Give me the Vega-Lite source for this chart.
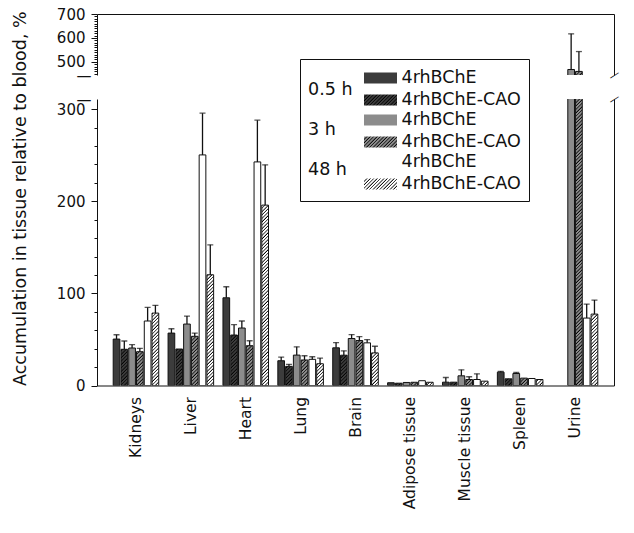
{
  "$schema": "https://vega.github.io/schema/vega-lite/v6.json",
  "padding": {"left": 11, "top": 7, "right": 5, "bottom": 5},
  "background": "white",
  "params": [
    {"name": "hs", "value": [
{"offset":0,"color":"#000"},{"offset":0.004,"color":"transparent"},{"offset":0.008,"color":"transparent"},
{"offset":0.01,"color":"#000"},{"offset":0.014,"color":"transparent"},{"offset":0.018,"color":"transparent"},
{"offset":0.02,"color":"#000"},{"offset":0.024,"color":"transparent"},{"offset":0.028,"color":"transparent"},
{"offset":0.03,"color":"#000"},{"offset":0.034,"color":"transparent"},{"offset":0.038,"color":"transparent"},
{"offset":0.04,"color":"#000"},{"offset":0.044,"color":"transparent"},{"offset":0.048,"color":"transparent"},
{"offset":0.05,"color":"#000"},{"offset":0.054,"color":"transparent"},{"offset":0.058,"color":"transparent"},
{"offset":0.06,"color":"#000"},{"offset":0.064,"color":"transparent"},{"offset":0.068,"color":"transparent"},
{"offset":0.07,"color":"#000"},{"offset":0.074,"color":"transparent"},{"offset":0.078,"color":"transparent"},
{"offset":0.08,"color":"#000"},{"offset":0.084,"color":"transparent"},{"offset":0.088,"color":"transparent"},
{"offset":0.09,"color":"#000"},{"offset":0.094,"color":"transparent"},{"offset":0.098,"color":"transparent"},
{"offset":0.1,"color":"#000"},{"offset":0.104,"color":"transparent"},{"offset":0.108,"color":"transparent"},
{"offset":0.11,"color":"#000"},{"offset":0.114,"color":"transparent"},{"offset":0.118,"color":"transparent"},
{"offset":0.12,"color":"#000"},{"offset":0.124,"color":"transparent"},{"offset":0.128,"color":"transparent"},
{"offset":0.13,"color":"#000"},{"offset":0.134,"color":"transparent"},{"offset":0.138,"color":"transparent"},
{"offset":0.14,"color":"#000"},{"offset":0.144,"color":"transparent"},{"offset":0.148,"color":"transparent"},
{"offset":0.15,"color":"#000"},{"offset":0.154,"color":"transparent"},{"offset":0.158,"color":"transparent"},
{"offset":0.16,"color":"#000"},{"offset":0.164,"color":"transparent"},{"offset":0.168,"color":"transparent"},
{"offset":0.17,"color":"#000"},{"offset":0.174,"color":"transparent"},{"offset":0.178,"color":"transparent"},
{"offset":0.18,"color":"#000"},{"offset":0.184,"color":"transparent"},{"offset":0.188,"color":"transparent"},
{"offset":0.19,"color":"#000"},{"offset":0.194,"color":"transparent"},{"offset":0.198,"color":"transparent"},
{"offset":0.2,"color":"#000"},{"offset":0.204,"color":"transparent"},{"offset":0.208,"color":"transparent"},
{"offset":0.21,"color":"#000"},{"offset":0.214,"color":"transparent"},{"offset":0.218,"color":"transparent"},
{"offset":0.22,"color":"#000"},{"offset":0.224,"color":"transparent"},{"offset":0.228,"color":"transparent"},
{"offset":0.23,"color":"#000"},{"offset":0.234,"color":"transparent"},{"offset":0.238,"color":"transparent"},
{"offset":0.24,"color":"#000"},{"offset":0.244,"color":"transparent"},{"offset":0.248,"color":"transparent"},
{"offset":0.25,"color":"#000"},{"offset":0.254,"color":"transparent"},{"offset":0.258,"color":"transparent"},
{"offset":0.26,"color":"#000"},{"offset":0.264,"color":"transparent"},{"offset":0.268,"color":"transparent"},
{"offset":0.27,"color":"#000"},{"offset":0.274,"color":"transparent"},{"offset":0.278,"color":"transparent"},
{"offset":0.28,"color":"#000"},{"offset":0.284,"color":"transparent"},{"offset":0.288,"color":"transparent"},
{"offset":0.29,"color":"#000"},{"offset":0.294,"color":"transparent"},{"offset":0.298,"color":"transparent"},
{"offset":0.3,"color":"#000"},{"offset":0.304,"color":"transparent"},{"offset":0.308,"color":"transparent"},
{"offset":0.31,"color":"#000"},{"offset":0.314,"color":"transparent"},{"offset":0.318,"color":"transparent"},
{"offset":0.32,"color":"#000"},{"offset":0.324,"color":"transparent"},{"offset":0.328,"color":"transparent"},
{"offset":0.33,"color":"#000"},{"offset":0.334,"color":"transparent"},{"offset":0.338,"color":"transparent"},
{"offset":0.34,"color":"#000"},{"offset":0.344,"color":"transparent"},{"offset":0.348,"color":"transparent"},
{"offset":0.35,"color":"#000"},{"offset":0.354,"color":"transparent"},{"offset":0.358,"color":"transparent"},
{"offset":0.36,"color":"#000"},{"offset":0.364,"color":"transparent"},{"offset":0.368,"color":"transparent"},
{"offset":0.37,"color":"#000"},{"offset":0.374,"color":"transparent"},{"offset":0.378,"color":"transparent"},
{"offset":0.38,"color":"#000"},{"offset":0.384,"color":"transparent"},{"offset":0.388,"color":"transparent"},
{"offset":0.39,"color":"#000"},{"offset":0.394,"color":"transparent"},{"offset":0.398,"color":"transparent"},
{"offset":0.4,"color":"#000"},{"offset":0.404,"color":"transparent"},{"offset":0.408,"color":"transparent"},
{"offset":0.41,"color":"#000"},{"offset":0.414,"color":"transparent"},{"offset":0.418,"color":"transparent"},
{"offset":0.42,"color":"#000"},{"offset":0.424,"color":"transparent"},{"offset":0.428,"color":"transparent"},
{"offset":0.43,"color":"#000"},{"offset":0.434,"color":"transparent"},{"offset":0.438,"color":"transparent"},
{"offset":0.44,"color":"#000"},{"offset":0.444,"color":"transparent"},{"offset":0.448,"color":"transparent"},
{"offset":0.45,"color":"#000"},{"offset":0.454,"color":"transparent"},{"offset":0.458,"color":"transparent"},
{"offset":0.46,"color":"#000"},{"offset":0.464,"color":"transparent"},{"offset":0.468,"color":"transparent"},
{"offset":0.47,"color":"#000"},{"offset":0.474,"color":"transparent"},{"offset":0.478,"color":"transparent"},
{"offset":0.48,"color":"#000"},{"offset":0.484,"color":"transparent"},{"offset":0.488,"color":"transparent"},
{"offset":0.49,"color":"#000"},{"offset":0.494,"color":"transparent"},{"offset":0.498,"color":"transparent"},
{"offset":0.5,"color":"#000"},{"offset":0.504,"color":"transparent"},{"offset":0.508,"color":"transparent"},
{"offset":0.51,"color":"#000"},{"offset":0.514,"color":"transparent"},{"offset":0.518,"color":"transparent"},
{"offset":0.52,"color":"#000"},{"offset":0.524,"color":"transparent"},{"offset":0.528,"color":"transparent"},
{"offset":0.53,"color":"#000"},{"offset":0.534,"color":"transparent"},{"offset":0.538,"color":"transparent"},
{"offset":0.54,"color":"#000"},{"offset":0.544,"color":"transparent"},{"offset":0.548,"color":"transparent"},
{"offset":0.55,"color":"#000"},{"offset":0.554,"color":"transparent"},{"offset":0.558,"color":"transparent"},
{"offset":0.56,"color":"#000"},{"offset":0.564,"color":"transparent"},{"offset":0.568,"color":"transparent"},
{"offset":0.57,"color":"#000"},{"offset":0.574,"color":"transparent"},{"offset":0.578,"color":"transparent"},
{"offset":0.58,"color":"#000"},{"offset":0.584,"color":"transparent"},{"offset":0.588,"color":"transparent"},
{"offset":0.59,"color":"#000"},{"offset":0.594,"color":"transparent"},{"offset":0.598,"color":"transparent"},
{"offset":0.6,"color":"#000"},{"offset":0.604,"color":"transparent"},{"offset":0.608,"color":"transparent"},
{"offset":0.61,"color":"#000"},{"offset":0.614,"color":"transparent"},{"offset":0.618,"color":"transparent"},
{"offset":0.62,"color":"#000"},{"offset":0.624,"color":"transparent"},{"offset":0.628,"color":"transparent"},
{"offset":0.63,"color":"#000"},{"offset":0.634,"color":"transparent"},{"offset":0.638,"color":"transparent"},
{"offset":0.64,"color":"#000"},{"offset":0.644,"color":"transparent"},{"offset":0.648,"color":"transparent"},
{"offset":0.65,"color":"#000"},{"offset":0.654,"color":"transparent"},{"offset":0.658,"color":"transparent"},
{"offset":0.66,"color":"#000"},{"offset":0.664,"color":"transparent"},{"offset":0.668,"color":"transparent"},
{"offset":0.67,"color":"#000"},{"offset":0.674,"color":"transparent"},{"offset":0.678,"color":"transparent"},
{"offset":0.68,"color":"#000"},{"offset":0.684,"color":"transparent"},{"offset":0.688,"color":"transparent"},
{"offset":0.69,"color":"#000"},{"offset":0.694,"color":"transparent"},{"offset":0.698,"color":"transparent"},
{"offset":0.7,"color":"#000"},{"offset":0.704,"color":"transparent"},{"offset":0.708,"color":"transparent"},
{"offset":0.71,"color":"#000"},{"offset":0.714,"color":"transparent"},{"offset":0.718,"color":"transparent"},
{"offset":0.72,"color":"#000"},{"offset":0.724,"color":"transparent"},{"offset":0.728,"color":"transparent"},
{"offset":0.73,"color":"#000"},{"offset":0.734,"color":"transparent"},{"offset":0.738,"color":"transparent"},
{"offset":0.74,"color":"#000"},{"offset":0.744,"color":"transparent"},{"offset":0.748,"color":"transparent"},
{"offset":0.75,"color":"#000"},{"offset":0.754,"color":"transparent"},{"offset":0.758,"color":"transparent"},
{"offset":0.76,"color":"#000"},{"offset":0.764,"color":"transparent"},{"offset":0.768,"color":"transparent"},
{"offset":0.77,"color":"#000"},{"offset":0.774,"color":"transparent"},{"offset":0.778,"color":"transparent"},
{"offset":0.78,"color":"#000"},{"offset":0.784,"color":"transparent"},{"offset":0.788,"color":"transparent"},
{"offset":0.79,"color":"#000"},{"offset":0.794,"color":"transparent"},{"offset":0.798,"color":"transparent"},
{"offset":0.8,"color":"#000"},{"offset":0.804,"color":"transparent"},{"offset":0.808,"color":"transparent"},
{"offset":0.81,"color":"#000"},{"offset":0.814,"color":"transparent"},{"offset":0.818,"color":"transparent"},
{"offset":0.82,"color":"#000"},{"offset":0.824,"color":"transparent"},{"offset":0.828,"color":"transparent"},
{"offset":0.83,"color":"#000"},{"offset":0.834,"color":"transparent"},{"offset":0.838,"color":"transparent"},
{"offset":0.84,"color":"#000"},{"offset":0.844,"color":"transparent"},{"offset":0.848,"color":"transparent"},
{"offset":0.85,"color":"#000"},{"offset":0.854,"color":"transparent"},{"offset":0.858,"color":"transparent"},
{"offset":0.86,"color":"#000"},{"offset":0.864,"color":"transparent"},{"offset":0.868,"color":"transparent"},
{"offset":0.87,"color":"#000"},{"offset":0.874,"color":"transparent"},{"offset":0.878,"color":"transparent"},
{"offset":0.88,"color":"#000"},{"offset":0.884,"color":"transparent"},{"offset":0.888,"color":"transparent"},
{"offset":0.89,"color":"#000"},{"offset":0.894,"color":"transparent"},{"offset":0.898,"color":"transparent"},
{"offset":0.9,"color":"#000"},{"offset":0.904,"color":"transparent"},{"offset":0.908,"color":"transparent"},
{"offset":0.91,"color":"#000"},{"offset":0.914,"color":"transparent"},{"offset":0.918,"color":"transparent"},
{"offset":0.92,"color":"#000"},{"offset":0.924,"color":"transparent"},{"offset":0.928,"color":"transparent"},
{"offset":0.93,"color":"#000"},{"offset":0.934,"color":"transparent"},{"offset":0.938,"color":"transparent"},
{"offset":0.94,"color":"#000"},{"offset":0.944,"color":"transparent"},{"offset":0.948,"color":"transparent"},
{"offset":0.95,"color":"#000"},{"offset":0.954,"color":"transparent"},{"offset":0.958,"color":"transparent"},
{"offset":0.96,"color":"#000"},{"offset":0.964,"color":"transparent"},{"offset":0.968,"color":"transparent"},
{"offset":0.97,"color":"#000"},{"offset":0.974,"color":"transparent"},{"offset":0.978,"color":"transparent"},
{"offset":0.98,"color":"#000"},{"offset":0.984,"color":"transparent"},{"offset":0.988,"color":"transparent"},
{"offset":0.99,"color":"#000"},{"offset":0.994,"color":"transparent"},{"offset":0.998,"color":"transparent"},
{"offset":1,"color":"#000"}
    ]},
    {"name": "ls1", "value": [
{"offset":0,"color":"#000"},{"offset":0.02,"color":"#3c3c3c"},{"offset":0.04,"color":"#3c3c3c"},
{"offset":0.05,"color":"#000"},{"offset":0.07,"color":"#3c3c3c"},{"offset":0.09,"color":"#3c3c3c"},
{"offset":0.1,"color":"#000"},{"offset":0.12,"color":"#3c3c3c"},{"offset":0.14,"color":"#3c3c3c"},
{"offset":0.15,"color":"#000"},{"offset":0.17,"color":"#3c3c3c"},{"offset":0.19,"color":"#3c3c3c"},
{"offset":0.2,"color":"#000"},{"offset":0.22,"color":"#3c3c3c"},{"offset":0.24,"color":"#3c3c3c"},
{"offset":0.25,"color":"#000"},{"offset":0.27,"color":"#3c3c3c"},{"offset":0.29,"color":"#3c3c3c"},
{"offset":0.3,"color":"#000"},{"offset":0.32,"color":"#3c3c3c"},{"offset":0.34,"color":"#3c3c3c"},
{"offset":0.35,"color":"#000"},{"offset":0.37,"color":"#3c3c3c"},{"offset":0.39,"color":"#3c3c3c"},
{"offset":0.4,"color":"#000"},{"offset":0.42,"color":"#3c3c3c"},{"offset":0.44,"color":"#3c3c3c"},
{"offset":0.45,"color":"#000"},{"offset":0.47,"color":"#3c3c3c"},{"offset":0.49,"color":"#3c3c3c"},
{"offset":0.5,"color":"#000"},{"offset":0.52,"color":"#3c3c3c"},{"offset":0.54,"color":"#3c3c3c"},
{"offset":0.55,"color":"#000"},{"offset":0.57,"color":"#3c3c3c"},{"offset":0.59,"color":"#3c3c3c"},
{"offset":0.6,"color":"#000"},{"offset":0.62,"color":"#3c3c3c"},{"offset":0.64,"color":"#3c3c3c"},
{"offset":0.65,"color":"#000"},{"offset":0.67,"color":"#3c3c3c"},{"offset":0.69,"color":"#3c3c3c"},
{"offset":0.7,"color":"#000"},{"offset":0.72,"color":"#3c3c3c"},{"offset":0.74,"color":"#3c3c3c"},
{"offset":0.75,"color":"#000"},{"offset":0.77,"color":"#3c3c3c"},{"offset":0.79,"color":"#3c3c3c"},
{"offset":0.8,"color":"#000"},{"offset":0.82,"color":"#3c3c3c"},{"offset":0.84,"color":"#3c3c3c"},
{"offset":0.85,"color":"#000"},{"offset":0.87,"color":"#3c3c3c"},{"offset":0.89,"color":"#3c3c3c"},
{"offset":0.9,"color":"#000"},{"offset":0.92,"color":"#3c3c3c"},{"offset":0.94,"color":"#3c3c3c"},
{"offset":0.95,"color":"#000"},{"offset":0.97,"color":"#3c3c3c"},{"offset":0.99,"color":"#3c3c3c"},
{"offset":1,"color":"#000"}
    ]},
    {"name": "ls2", "value": [
{"offset":0,"color":"#000"},{"offset":0.02,"color":"#8c8c8c"},{"offset":0.04,"color":"#8c8c8c"},
{"offset":0.05,"color":"#000"},{"offset":0.07,"color":"#8c8c8c"},{"offset":0.09,"color":"#8c8c8c"},
{"offset":0.1,"color":"#000"},{"offset":0.12,"color":"#8c8c8c"},{"offset":0.14,"color":"#8c8c8c"},
{"offset":0.15,"color":"#000"},{"offset":0.17,"color":"#8c8c8c"},{"offset":0.19,"color":"#8c8c8c"},
{"offset":0.2,"color":"#000"},{"offset":0.22,"color":"#8c8c8c"},{"offset":0.24,"color":"#8c8c8c"},
{"offset":0.25,"color":"#000"},{"offset":0.27,"color":"#8c8c8c"},{"offset":0.29,"color":"#8c8c8c"},
{"offset":0.3,"color":"#000"},{"offset":0.32,"color":"#8c8c8c"},{"offset":0.34,"color":"#8c8c8c"},
{"offset":0.35,"color":"#000"},{"offset":0.37,"color":"#8c8c8c"},{"offset":0.39,"color":"#8c8c8c"},
{"offset":0.4,"color":"#000"},{"offset":0.42,"color":"#8c8c8c"},{"offset":0.44,"color":"#8c8c8c"},
{"offset":0.45,"color":"#000"},{"offset":0.47,"color":"#8c8c8c"},{"offset":0.49,"color":"#8c8c8c"},
{"offset":0.5,"color":"#000"},{"offset":0.52,"color":"#8c8c8c"},{"offset":0.54,"color":"#8c8c8c"},
{"offset":0.55,"color":"#000"},{"offset":0.57,"color":"#8c8c8c"},{"offset":0.59,"color":"#8c8c8c"},
{"offset":0.6,"color":"#000"},{"offset":0.62,"color":"#8c8c8c"},{"offset":0.64,"color":"#8c8c8c"},
{"offset":0.65,"color":"#000"},{"offset":0.67,"color":"#8c8c8c"},{"offset":0.69,"color":"#8c8c8c"},
{"offset":0.7,"color":"#000"},{"offset":0.72,"color":"#8c8c8c"},{"offset":0.74,"color":"#8c8c8c"},
{"offset":0.75,"color":"#000"},{"offset":0.77,"color":"#8c8c8c"},{"offset":0.79,"color":"#8c8c8c"},
{"offset":0.8,"color":"#000"},{"offset":0.82,"color":"#8c8c8c"},{"offset":0.84,"color":"#8c8c8c"},
{"offset":0.85,"color":"#000"},{"offset":0.87,"color":"#8c8c8c"},{"offset":0.89,"color":"#8c8c8c"},
{"offset":0.9,"color":"#000"},{"offset":0.92,"color":"#8c8c8c"},{"offset":0.94,"color":"#8c8c8c"},
{"offset":0.95,"color":"#000"},{"offset":0.97,"color":"#8c8c8c"},{"offset":0.99,"color":"#8c8c8c"},
{"offset":1,"color":"#000"}
    ]},
    {"name": "ls3", "value": [
{"offset":0,"color":"#000"},{"offset":0.02,"color":"#ffffff"},{"offset":0.04,"color":"#ffffff"},
{"offset":0.05,"color":"#000"},{"offset":0.07,"color":"#ffffff"},{"offset":0.09,"color":"#ffffff"},
{"offset":0.1,"color":"#000"},{"offset":0.12,"color":"#ffffff"},{"offset":0.14,"color":"#ffffff"},
{"offset":0.15,"color":"#000"},{"offset":0.17,"color":"#ffffff"},{"offset":0.19,"color":"#ffffff"},
{"offset":0.2,"color":"#000"},{"offset":0.22,"color":"#ffffff"},{"offset":0.24,"color":"#ffffff"},
{"offset":0.25,"color":"#000"},{"offset":0.27,"color":"#ffffff"},{"offset":0.29,"color":"#ffffff"},
{"offset":0.3,"color":"#000"},{"offset":0.32,"color":"#ffffff"},{"offset":0.34,"color":"#ffffff"},
{"offset":0.35,"color":"#000"},{"offset":0.37,"color":"#ffffff"},{"offset":0.39,"color":"#ffffff"},
{"offset":0.4,"color":"#000"},{"offset":0.42,"color":"#ffffff"},{"offset":0.44,"color":"#ffffff"},
{"offset":0.45,"color":"#000"},{"offset":0.47,"color":"#ffffff"},{"offset":0.49,"color":"#ffffff"},
{"offset":0.5,"color":"#000"},{"offset":0.52,"color":"#ffffff"},{"offset":0.54,"color":"#ffffff"},
{"offset":0.55,"color":"#000"},{"offset":0.57,"color":"#ffffff"},{"offset":0.59,"color":"#ffffff"},
{"offset":0.6,"color":"#000"},{"offset":0.62,"color":"#ffffff"},{"offset":0.64,"color":"#ffffff"},
{"offset":0.65,"color":"#000"},{"offset":0.67,"color":"#ffffff"},{"offset":0.69,"color":"#ffffff"},
{"offset":0.7,"color":"#000"},{"offset":0.72,"color":"#ffffff"},{"offset":0.74,"color":"#ffffff"},
{"offset":0.75,"color":"#000"},{"offset":0.77,"color":"#ffffff"},{"offset":0.79,"color":"#ffffff"},
{"offset":0.8,"color":"#000"},{"offset":0.82,"color":"#ffffff"},{"offset":0.84,"color":"#ffffff"},
{"offset":0.85,"color":"#000"},{"offset":0.87,"color":"#ffffff"},{"offset":0.89,"color":"#ffffff"},
{"offset":0.9,"color":"#000"},{"offset":0.92,"color":"#ffffff"},{"offset":0.94,"color":"#ffffff"},
{"offset":0.95,"color":"#000"},{"offset":0.97,"color":"#ffffff"},{"offset":0.99,"color":"#ffffff"},
{"offset":1,"color":"#000"}
    ]}
  ],
  "data": {"values": [
    {"t":"Kidneys","s":"0.5 h|4rhBChE","v":50.4,"u":55.1},
    {"t":"Kidneys","s":"0.5 h|4rhBChE-CAO","v":39.3,"u":48.3},
    {"t":"Kidneys","s":"3 h|4rhBChE","v":40.7,"u":44.3},
    {"t":"Kidneys","s":"3 h|4rhBChE-CAO","v":36.7,"u":40.3},
    {"t":"Kidneys","s":"48 h|4rhBChE","v":70,"u":84.8},
    {"t":"Kidneys","s":"48 h|4rhBChE-CAO","v":78.6,"u":87},
    {"t":"Liver","s":"0.5 h|4rhBChE","v":56.9,"u":61.6},
    {"t":"Liver","s":"0.5 h|4rhBChE-CAO","v":39.6},
    {"t":"Liver","s":"3 h|4rhBChE","v":66.7,"u":75.4},
    {"t":"Liver","s":"3 h|4rhBChE-CAO","v":53.4,"u":56.9},
    {"t":"Liver","s":"48 h|4rhBChE","v":250.3,"u":295.6},
    {"t":"Liver","s":"48 h|4rhBChE-CAO","v":120.2,"u":152.7},
    {"t":"Heart","s":"0.5 h|4rhBChE","v":95.2,"u":107.2},
    {"t":"Heart","s":"0.5 h|4rhBChE-CAO","v":54.8,"u":66},
    {"t":"Heart","s":"3 h|4rhBChE","v":62.4,"u":70},
    {"t":"Heart","s":"3 h|4rhBChE-CAO","v":43.2,"u":48.6},
    {"t":"Heart","s":"48 h|4rhBChE","v":242.7,"u":288},
    {"t":"Heart","s":"48 h|4rhBChE-CAO","v":195.8,"u":239.5},
    {"t":"Lung","s":"0.5 h|4rhBChE","v":26.9,"u":30.9},
    {"t":"Lung","s":"0.5 h|4rhBChE-CAO","v":20.8,"u":23},
    {"t":"Lung","s":"3 h|4rhBChE","v":33,"u":42},
    {"t":"Lung","s":"3 h|4rhBChE-CAO","v":27.7,"u":32.3},
    {"t":"Lung","s":"48 h|4rhBChE","v":28.4,"u":31.2},
    {"t":"Lung","s":"48 h|4rhBChE-CAO","v":23.6,"u":29.8},
    {"t":"Brain","s":"0.5 h|4rhBChE","v":40.9,"u":46.6},
    {"t":"Brain","s":"0.5 h|4rhBChE-CAO","v":32.9,"u":37.6},
    {"t":"Brain","s":"3 h|4rhBChE","v":51,"u":55.3},
    {"t":"Brain","s":"3 h|4rhBChE-CAO","v":48.8,"u":53.1},
    {"t":"Brain","s":"48 h|4rhBChE","v":46.3,"u":49.9},
    {"t":"Brain","s":"48 h|4rhBChE-CAO","v":35.4,"u":42.6},
    {"t":"Adipose tissue","s":"0.5 h|4rhBChE","v":3},
    {"t":"Adipose tissue","s":"0.5 h|4rhBChE-CAO","v":2.5},
    {"t":"Adipose tissue","s":"3 h|4rhBChE","v":3.3},
    {"t":"Adipose tissue","s":"3 h|4rhBChE-CAO","v":3.5},
    {"t":"Adipose tissue","s":"48 h|4rhBChE","v":5.2},
    {"t":"Adipose tissue","s":"48 h|4rhBChE-CAO","v":3.5},
    {"t":"Muscle tissue","s":"0.5 h|4rhBChE","v":3.6,"u":8.7},
    {"t":"Muscle tissue","s":"0.5 h|4rhBChE-CAO","v":3.6},
    {"t":"Muscle tissue","s":"3 h|4rhBChE","v":10.5,"u":17},
    {"t":"Muscle tissue","s":"3 h|4rhBChE-CAO","v":6.5,"u":9.5},
    {"t":"Muscle tissue","s":"48 h|4rhBChE","v":6.5,"u":12.7},
    {"t":"Muscle tissue","s":"48 h|4rhBChE-CAO","v":4.7},
    {"t":"Spleen","s":"0.5 h|4rhBChE","v":14.5,"u":15.4},
    {"t":"Spleen","s":"0.5 h|4rhBChE-CAO","v":7.2},
    {"t":"Spleen","s":"3 h|4rhBChE","v":13,"u":14.2},
    {"t":"Spleen","s":"3 h|4rhBChE-CAO","v":8},
    {"t":"Spleen","s":"48 h|4rhBChE","v":7.6},
    {"t":"Spleen","s":"48 h|4rhBChE-CAO","v":6.5},
    {"t":"Urine","s":"3 h|4rhBChE","v":468,"u":617},
    {"t":"Urine","s":"3 h|4rhBChE-CAO","v":460,"u":543},
    {"t":"Urine","s":"48 h|4rhBChE","v":73.2,"u":88.4},
    {"t":"Urine","s":"48 h|4rhBChE-CAO","v":77.5,"u":92.7}
  ]},
  "spacing": 24,
  "bounds": "flush",
  "vconcat": [
    {
      "width": 517,
      "height": 61,
      "encoding": {
        "x": {"field": "t", "type": "nominal",
          "scale": {"domain": ["Kidneys","Liver","Heart","Lung","Brain","Adipose tissue","Muscle tissue","Spleen","Urine"], "paddingInner": 0, "paddingOuter": 0.21},
          "axis": {"orient": "top", "labels": false, "ticks": false, "title": null}},
        "xOffset": {"field": "s", "type": "nominal",
          "scale": {"domain": ["0.5 h|4rhBChE","0.5 h|4rhBChE-CAO","3 h|4rhBChE","3 h|4rhBChE-CAO","48 h|4rhBChE","48 h|4rhBChE-CAO"], "paddingInner": 0.14, "paddingOuter": 0.6}}
      },
      "layer": [
        {
          "mark": {"type": "bar", "clip": true, "strokeWidth": 0,
            "fill": {"expr": "indexof(datum.s,'0.5')==0 ? '#3c3c3c' : indexof(datum.s,'3 h')==0 ? '#8c8c8c' : '#ffffff'"}},
          "encoding": {
            "y": {"field": "v", "type": "quantitative", "stack": null,
              "scale": {"domain": [445, 700], "zero": false, "nice": false},
              "axis": {"orient": "left", "title": null,
                "values": [445,450,460,470,480,490,500,510,520,530,540,550,560,570,580,590,600,610,620,630,640,650,660,670,680,690,700],
                "labelExpr": "datum.value == 445 ? '—' : (datum.value % 100 == 0 ? datum.label : '')",
                "tickSize": {"condition": [{"test": "datum.value == 445", "value": 0}, {"test": "datum.value % 100 == 0", "value": 6}], "value": 3},
                "labelPadding": 6, "labelOverlap": false, "labelFlush": false, "labelBound": false,
                "encode": {"labels": {
                  "angle": {"condition": {"test": "datum.value == 445", "value": -33}, "value": 0},
                  "align": {"condition": {"test": "datum.value == 445", "value": "center"}, "value": "right"},
                  "dx": {"condition": {"test": "datum.value == 445", "value": 9.3}, "value": 0},
                  "dy": {"condition": {"test": "datum.value == 445", "value": 10.5}, "value": 0},
                  "fontSize": {"condition": {"test": "datum.value == 445", "value": 11}, "value": 15}
                }}}},
            "y2": {"datum": 0}
          }
        },
        {
          "mark": {"type": "bar", "clip": true, "stroke": "#111", "strokeWidth": 1,
            "fill": {"expr": "indexof(datum.s,'CAO')>=0 ? {gradient:'linear',x1:1,y1:1,x2:1-340*6.69/(44.76+pow(datum.v*0.2392,2)),y2:1-340*datum.v*0.2392/(44.76+pow(datum.v*0.2392,2)),stops:hs} : 'transparent'"}},
          "encoding": {
            "y": {"field": "v", "type": "quantitative", "stack": null,
              "scale": {"domain": [445, 700], "zero": false, "nice": false},
              "axis": {"orient": "right", "title": null, "values": [445], "ticks": false,
                "labelExpr": "'—'", "labelPadding": 0, "labelOverlap": false, "labelBound": false,
                "labelAngle": -33, "labelAlign": "center", "labelBaseline": "middle", "labelFontSize": 11,
                "encode": {"labels": {"dy": {"value": 2.5}}}}},
            "y2": {"datum": 0}
          }
        },
        {
          "transform": [{"filter": "isValid(datum.u)"}],
          "mark": {"type": "rule", "clip": true, "color": "#111", "strokeWidth": 1.3},
          "encoding": {
            "y": {"field": "v", "type": "quantitative", "scale": {"domain": [445, 700], "zero": false, "nice": false}, "axis": null},
            "y2": {"field": "u"}
          }
        },
        {
          "transform": [{"filter": "isValid(datum.u)"}],
          "mark": {"type": "tick", "clip": true, "color": "#111", "thickness": 1.3, "size": 6},
          "encoding": {
            "y": {"field": "u", "type": "quantitative", "scale": {"domain": [445, 700], "zero": false, "nice": false}, "axis": null}
          }
        }
      ],
      "resolve": {"axis": {"y": "independent"}}
    },
    {
      "width": 517,
      "height": 286.5,
      "encoding": {
        "x": {"field": "t", "type": "nominal",
          "scale": {"domain": ["Kidneys","Liver","Heart","Lung","Brain","Adipose tissue","Muscle tissue","Spleen","Urine"], "paddingInner": 0, "paddingOuter": 0.21},
          "axis": {"orient": "bottom", "labelAngle": -90, "labelAlign": "right", "labelBaseline": "middle", "ticks": false, "labelPadding": 11, "title": null, "labelFontSize": 15.5}},
        "xOffset": {"field": "s", "type": "nominal",
          "scale": {"domain": ["0.5 h|4rhBChE","0.5 h|4rhBChE-CAO","3 h|4rhBChE","3 h|4rhBChE-CAO","48 h|4rhBChE","48 h|4rhBChE-CAO"], "paddingInner": 0.14, "paddingOuter": 0.6}}
      },
      "layer": [
        {
          "mark": {"type": "bar", "clip": true, "strokeWidth": 0,
            "fill": {"expr": "indexof(datum.s,'0.5')==0 ? '#3c3c3c' : indexof(datum.s,'3 h')==0 ? '#8c8c8c' : '#ffffff'"}},
          "encoding": {
            "y": {"field": "v", "type": "quantitative", "stack": null,
              "scale": {"domain": [0, 311], "nice": false},
              "axis": {"orient": "left",
                "title": "Accumulation in tissue relative to blood, %", "titleAnchor": "start", "titlePadding": 27, "titleFontSize": 17.5,
                "values": [0,20,40,60,80,100,120,140,160,180,200,220,240,260,280,300,311],
                "labelExpr": "datum.value == 311 ? '—' : (datum.value % 100 == 0 ? datum.label : '')",
                "tickSize": {"condition": [{"test": "datum.value == 311", "value": 0}, {"test": "datum.value % 100 == 0", "value": 6}], "value": 3},
                "labelPadding": 6, "labelOverlap": false, "labelFlush": false, "labelBound": false,
                "encode": {"labels": {
                  "angle": {"condition": {"test": "datum.value == 311", "value": -33}, "value": 0},
                  "align": {"condition": {"test": "datum.value == 311", "value": "center"}, "value": "right"},
                  "dx": {"condition": {"test": "datum.value == 311", "value": 12.1}, "value": 0},
                  "dy": {"condition": {"test": "datum.value == 311", "value": 6.1}, "value": 0},
                  "fontSize": {"condition": {"test": "datum.value == 311", "value": 11}, "value": 15}
                }}}},
            "y2": {"datum": 0}
          }
        },
        {
          "mark": {"type": "bar", "clip": true, "stroke": "#111", "strokeWidth": 1,
            "fill": {"expr": "indexof(datum.s,'CAO')>=0 ? {gradient:'linear',x1:1,y1:1,x2:1-340*6.69/(44.76+pow(datum.v*0.9212,2)),y2:1-340*datum.v*0.9212/(44.76+pow(datum.v*0.9212,2)),stops:hs} : 'transparent'"}},
          "encoding": {
            "y": {"field": "v", "type": "quantitative", "stack": null,
              "scale": {"domain": [0, 311], "nice": false},
              "axis": {"orient": "right", "title": null, "values": [311], "ticks": false,
                "labelExpr": "'—'", "labelPadding": 0, "labelOverlap": false, "labelBound": false,
                "labelAngle": -33, "labelAlign": "center", "labelBaseline": "middle", "labelFontSize": 11,
                "encode": {"labels": {"dy": {"value": -4}}}}},
            "y2": {"datum": 0}
          }
        },
        {
          "transform": [{"filter": "isValid(datum.u)"}],
          "mark": {"type": "rule", "clip": true, "color": "#111", "strokeWidth": 1.3},
          "encoding": {
            "y": {"field": "v", "type": "quantitative", "scale": {"domain": [0, 311], "nice": false}, "axis": null},
            "y2": {"field": "u"}
          }
        },
        {
          "transform": [{"filter": "isValid(datum.u)"}],
          "mark": {"type": "tick", "clip": true, "color": "#111", "thickness": 1.3, "size": 6},
          "encoding": {
            "y": {"field": "u", "type": "quantitative", "scale": {"domain": [0, 311], "nice": false}, "axis": null}
          }
        },
        {
          "mark": {"type": "point", "filled": true, "opacity": 0, "clip": true},
          "encoding": {
            "y": {"field": "v", "type": "quantitative", "scale": {"domain": [0, 311], "nice": false}, "axis": null},
            "fill": {"field": "s", "type": "nominal",
              "scale": {"domain": ["0.5 h|4rhBChE","0.5 h|4rhBChE-CAO","3 h|4rhBChE","3 h|4rhBChE-CAO","48 h|4rhBChE","48 h|4rhBChE-CAO"],
                "range": ["#3c3c3c", {"expr": "{gradient:'linear',x1:1,y1:1,x2:-0.578,y2:0.423,stops:ls1}"}, "#8c8c8c", {"expr": "{gradient:'linear',x1:1,y1:1,x2:-0.578,y2:0.423,stops:ls2}"}, "#ffffff", {"expr": "{gradient:'linear',x1:1,y1:1,x2:-0.578,y2:0.423,stops:ls3}"}]},
              "legend": {
                "orient": "none", "legendX": 203, "legendY": 45,
                "title": ["0.5 h", "\u00a0\u00a0\u00a03 h", "\u00a048 h"],
                "titleOrient": "left", "titleAnchor": "middle", "titleBaseline": "middle", "titleAlign": "left",
                "titleLineHeight": 40, "titleFontSize": 17.5, "titleFontWeight": "normal", "titleFont": "DejaVu Sans", "titleColor": "#111", "titlePadding": 16.5,
                "labelExpr": "split(datum.label, '|')[1]", "labelFontSize": 17.5, "labelFont": "DejaVu Sans", "labelColor": "#111", "labelOffset": 10, "labelLimit": 300,
                "symbolSize": 441, "symbolStrokeColor": "#111", "symbolStrokeWidth": 1, "symbolOpacity": 1,
                "rowPadding": 0, "padding": 8,
                "strokeColor": "#111", "fillColor": "white"
              }},
            "shape": {"field": "s", "type": "nominal",
              "scale": {"domain": ["0.5 h|4rhBChE","0.5 h|4rhBChE-CAO","3 h|4rhBChE","3 h|4rhBChE-CAO","48 h|4rhBChE","48 h|4rhBChE-CAO"],
                "range": ["M-1.571,-0.524H1.571V0.524H-1.571Z M-1.714,-0.524H-2.048V0.8V-0.524Z", "M-1.571,-0.524H1.571V0.524H-1.571Z M-1.714,0.524H-2.048V-0.8V0.524Z", "M-1.571,-0.524H1.571V0.524H-1.571Z M-1.714,-0.524H-2.048V0.8V-0.524Z", "M-1.571,-0.524H1.571V0.524H-1.571Z M-1.714,0.524H-2.048V-0.8V0.524Z", "M-1.571,-0.524H1.571V0.524H-1.571Z M-1.714,-0.524H-2.048V0.8V-0.524Z", "M-1.571,-0.524H1.571V0.524H-1.571Z M-1.714,0.524H-2.048V-0.8V0.524Z"]},
              "legend": {
                "orient": "none", "legendX": 203, "legendY": 45,
                "title": ["0.5 h", "\u00a0\u00a0\u00a03 h", "\u00a048 h"],
                "titleOrient": "left", "titleAnchor": "middle", "titleBaseline": "middle", "titleAlign": "left",
                "titleLineHeight": 40, "titleFontSize": 17.5, "titleFontWeight": "normal", "titleFont": "DejaVu Sans", "titleColor": "#111", "titlePadding": 16.5,
                "labelExpr": "split(datum.label, '|')[1]", "labelFontSize": 17.5, "labelFont": "DejaVu Sans", "labelColor": "#111", "labelOffset": 10, "labelLimit": 300,
                "symbolSize": 441, "symbolStrokeColor": "#111", "symbolStrokeWidth": 1, "symbolOpacity": 1,
                "rowPadding": 0, "padding": 8,
                "strokeColor": "#111", "fillColor": "white"
              }}
          }
        }
      ],
      "resolve": {"axis": {"y": "independent"}}
    }
  ],
  "config": {
    "view": {"stroke": null},
    "font": "DejaVu Sans",
    "axis": {"domainColor": "#111", "domainWidth": 1, "tickColor": "#111", "tickWidth": 1,
      "labelColor": "#111", "titleColor": "#111", "labelFont": "DejaVu Sans", "titleFont": "DejaVu Sans",
      "labelFontSize": 15, "titleFontSize": 16, "titleFontWeight": "normal", "grid": false}
  }
}
